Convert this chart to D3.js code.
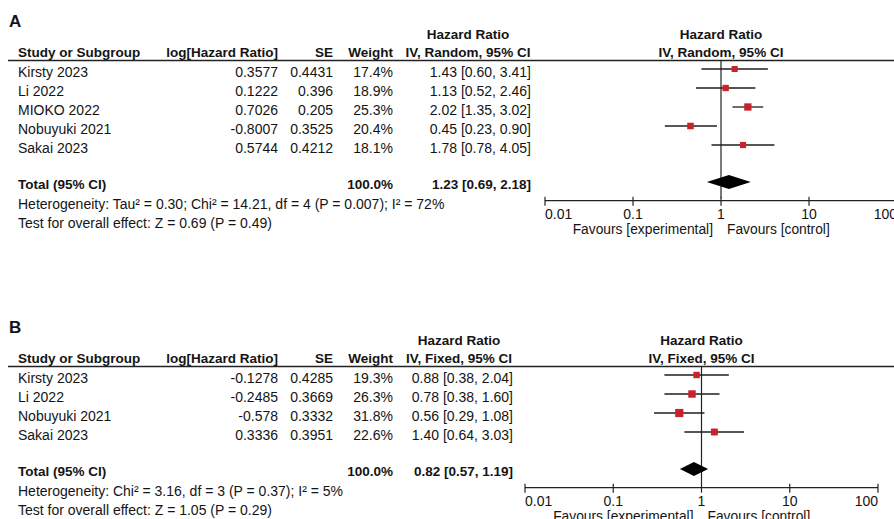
<!DOCTYPE html>
<html>
<head>
<meta charset="utf-8">
<script src="https://cdn.jsdelivr.net/npm/d3@7"></script>
<style>
body{margin:0;background:#fff;}
svg text{font-family:"Liberation Sans",Arial,sans-serif;fill:#141414;}
.b{font-weight:bold;}
</style>
</head>
<body>
<script>
// data, panel A (random effects)
var studiesA=["Kirsty 2023","Li 2022","MIOKO 2022","Nobuyuki 2021","Sakai 2023"];
var loghrA=[0.3577,0.1222,0.7026,-0.8007,0.5744];
var seA=[0.4431,0.396,0.205,0.3525,0.4212];
var weightA=[17.4,18.9,25.3,20.4,18.1];
var hrA=[1.43,1.13,2.02,0.45,1.78];
var loA=[0.60,0.52,1.35,0.23,0.78];
var hiA=[3.41,2.46,3.02,0.90,4.05];
var totalA=[1.23,0.69,2.18];
var hetA="Heterogeneity: Tau\u00b2 = 0.30; Chi\u00b2 = 14.21, df = 4 (P = 0.007); I\u00b2 = 72%";
var testA="Test for overall effect: Z = 0.69 (P = 0.49)";
// data, panel B (fixed effects)
var studiesB=["Kirsty 2023","Li 2022","Nobuyuki 2021","Sakai 2023"];
var loghrB=[-0.1278,-0.2485,-0.578,0.3336];
var seB=[0.4285,0.3669,0.3332,0.3951];
var weightB=[19.3,26.3,31.8,22.6];
var hrB=[0.88,0.78,0.56,1.40];
var loB=[0.38,0.38,0.29,0.64];
var hiB=[2.04,1.60,1.08,3.03];
var totalB=[0.82,0.57,1.19];
var hetB="Heterogeneity: Chi\u00b2 = 3.16, df = 3 (P = 0.37); I\u00b2 = 5%";
var testB="Test for overall effect: Z = 1.05 (P = 0.29)";
var ticks=[0.01,0.1,1,10,100];

var W=894,H=519;
var fs=14; // text size
var rowh=19; // row spacing
var svg=d3.select('body').append('svg').attr('width',W).attr('height',H);

function f2(v){return v.toFixed(2);}
function ci(h,l,u){return f2(h)+' ['+f2(l)+', '+f2(u)+']';}

function panel(o){
 var g=svg.append('g').attr('transform','translate(0,'+o.top+')');
 var x=d3.scaleLog().domain([0.01,100]).range(o.range);
 var sz=d3.scaleSqrt().domain([0,100]).range([0,14.5]);
 var ciL=405; // left of CI column
 var ciMid=(ciL+o.ciR)/2;
 function txt(xx,yy,s,anchor,bold,size){
  return g.append('text').attr('x',xx).attr('y',yy).text(s)
   .attr('text-anchor',anchor||'start').attr('class',bold?'b':null)
   .style('font-size',(size||fs)+'px');
 }
 txt(9,27,o.letter,'start',true,17);
 // headers
 txt(ciMid,39,'Hazard Ratio','middle',true,13.5);
 txt(x(1),39,'Hazard Ratio','middle',true,13.5);
 txt(18,57,'Study or Subgroup','start',true,13.5);
 txt(278,57,'log[Hazard Ratio]','end',true,13.5);
 txt(333,57,'SE','end',true,13.5);
 txt(393,57,'Weight','end',true,13.5);
 txt(ciMid,57,o.method,'middle',true,13.5);
 txt(x(1),57,o.method,'middle',true,13.5);
 g.append('line').attr('x1',8).attr('x2',W).attr('y1',60.5).attr('y2',60.5)
  .attr('stroke','#222').attr('stroke-width',1.3);
 var n=o.studies.length;
 var yc=function(i){return 69+rowh*i;};
 var yTot=yc(n-1)+37;
 var yAxis=yTot+18.7;
 // vertical line of no effect
 g.append('line').attr('x1',x(1)).attr('x2',x(1)).attr('y1',60.5).attr('y2',yAxis-3)
  .attr('stroke','#222').attr('stroke-width',1.2);
 // rows
 var ty=function(d,i){return yc(i)+8;};
 var rows=g.selectAll('g.row').data(o.studies).enter().append('g').attr('class','row');
 rows.append('text').attr('x',18).attr('y',ty).text(function(d){return d;});
 rows.append('text').attr('x',278).attr('text-anchor','end').attr('y',ty)
  .text(function(d,i){return String(o.loghr[i]);});
 rows.append('text').attr('x',333).attr('text-anchor','end').attr('y',ty)
  .text(function(d,i){return String(o.se[i]);});
 rows.append('text').attr('x',393).attr('text-anchor','end').attr('y',ty)
  .text(function(d,i){return o.weight[i].toFixed(1)+'%';});
 rows.append('text').attr('x',o.ciR).attr('text-anchor','end').attr('y',ty)
  .text(function(d,i){return ci(o.hr[i],o.lo[i],o.hi[i]);});
 rows.selectAll('text').style('font-size',fs+'px');
 rows.append('line').attr('x1',function(d,i){return x(o.lo[i]);}).attr('x2',function(d,i){return x(o.hi[i]);})
  .attr('y1',function(d,i){return yc(i);}).attr('y2',function(d,i){return yc(i);})
  .attr('stroke','#1e1e1e').attr('stroke-width',1.3);
 rows.append('rect')
  .attr('x',function(d,i){return x(o.hr[i])-sz(o.weight[i])/2;})
  .attr('y',function(d,i){return yc(i)-sz(o.weight[i])/2;})
  .attr('width',function(d,i){return sz(o.weight[i]);})
  .attr('height',function(d,i){return sz(o.weight[i]);})
  .attr('fill','#c9222b');
 // total
 txt(18,yTot+7,'Total (95% CI)','start',true,13.5);
 txt(393,yTot+7,'100.0%','end',true,13.5);
 txt(o.ciR,yTot+7,ci(o.total[0],o.total[1],o.total[2]),'end',true,13.5);
 var t=o.total;
 g.append('path').attr('d','M'+x(t[1])+','+yTot+'L'+x(t[0])+','+(yTot-7)+'L'+x(t[2])+','+yTot+'L'+x(t[0])+','+(yTot+7)+'Z')
  .attr('fill','#000');
 txt(18,yTot+27,o.het);
 txt(18,yTot+46,o.test);
 // axis
 g.append('line').attr('x1',x(0.01)).attr('x2',x(100)).attr('y1',yAxis).attr('y2',yAxis)
  .attr('stroke','#222').attr('stroke-width',1.2);
 g.selectAll('line.tk').data(ticks).enter().append('line').attr('class','tk')
  .attr('x1',function(d){return x(d);}).attr('x2',function(d){return x(d);})
  .attr('y1',yAxis-4).attr('y2',yAxis+5).attr('stroke','#222').attr('stroke-width',1.2);
 g.selectAll('text.tl').data(ticks).enter().append('text').attr('class','tl')
  .attr('x',function(d){return x(d);}).attr('y',yAxis+18.5)
  .attr('text-anchor',function(d,i){return i==0?'start':(i==ticks.length-1?'end':'middle');})
  .style('font-size',fs+'px')
  .text(function(d){return String(d);});
 txt(x(1)-8,yAxis+33.5,'Favours [experimental]','end',false,13.8);
 txt(x(1)+6,yAxis+33.5,'Favours [control]','start',false,13.8);
}

panel({top:0,letter:'A',method:'IV, Random, 95% CI',ciR:531,range:[545,897],
 studies:studiesA,loghr:loghrA,se:seA,weight:weightA,hr:hrA,lo:loA,hi:hiA,total:totalA,het:hetA,test:testA});
panel({top:306,letter:'B',method:'IV, Fixed, 95% CI',ciR:513,range:[525,878],
 studies:studiesB,loghr:loghrB,se:seB,weight:weightB,hr:hrB,lo:loB,hi:hiB,total:totalB,het:hetB,test:testB});
</script>
</body>
</html>
